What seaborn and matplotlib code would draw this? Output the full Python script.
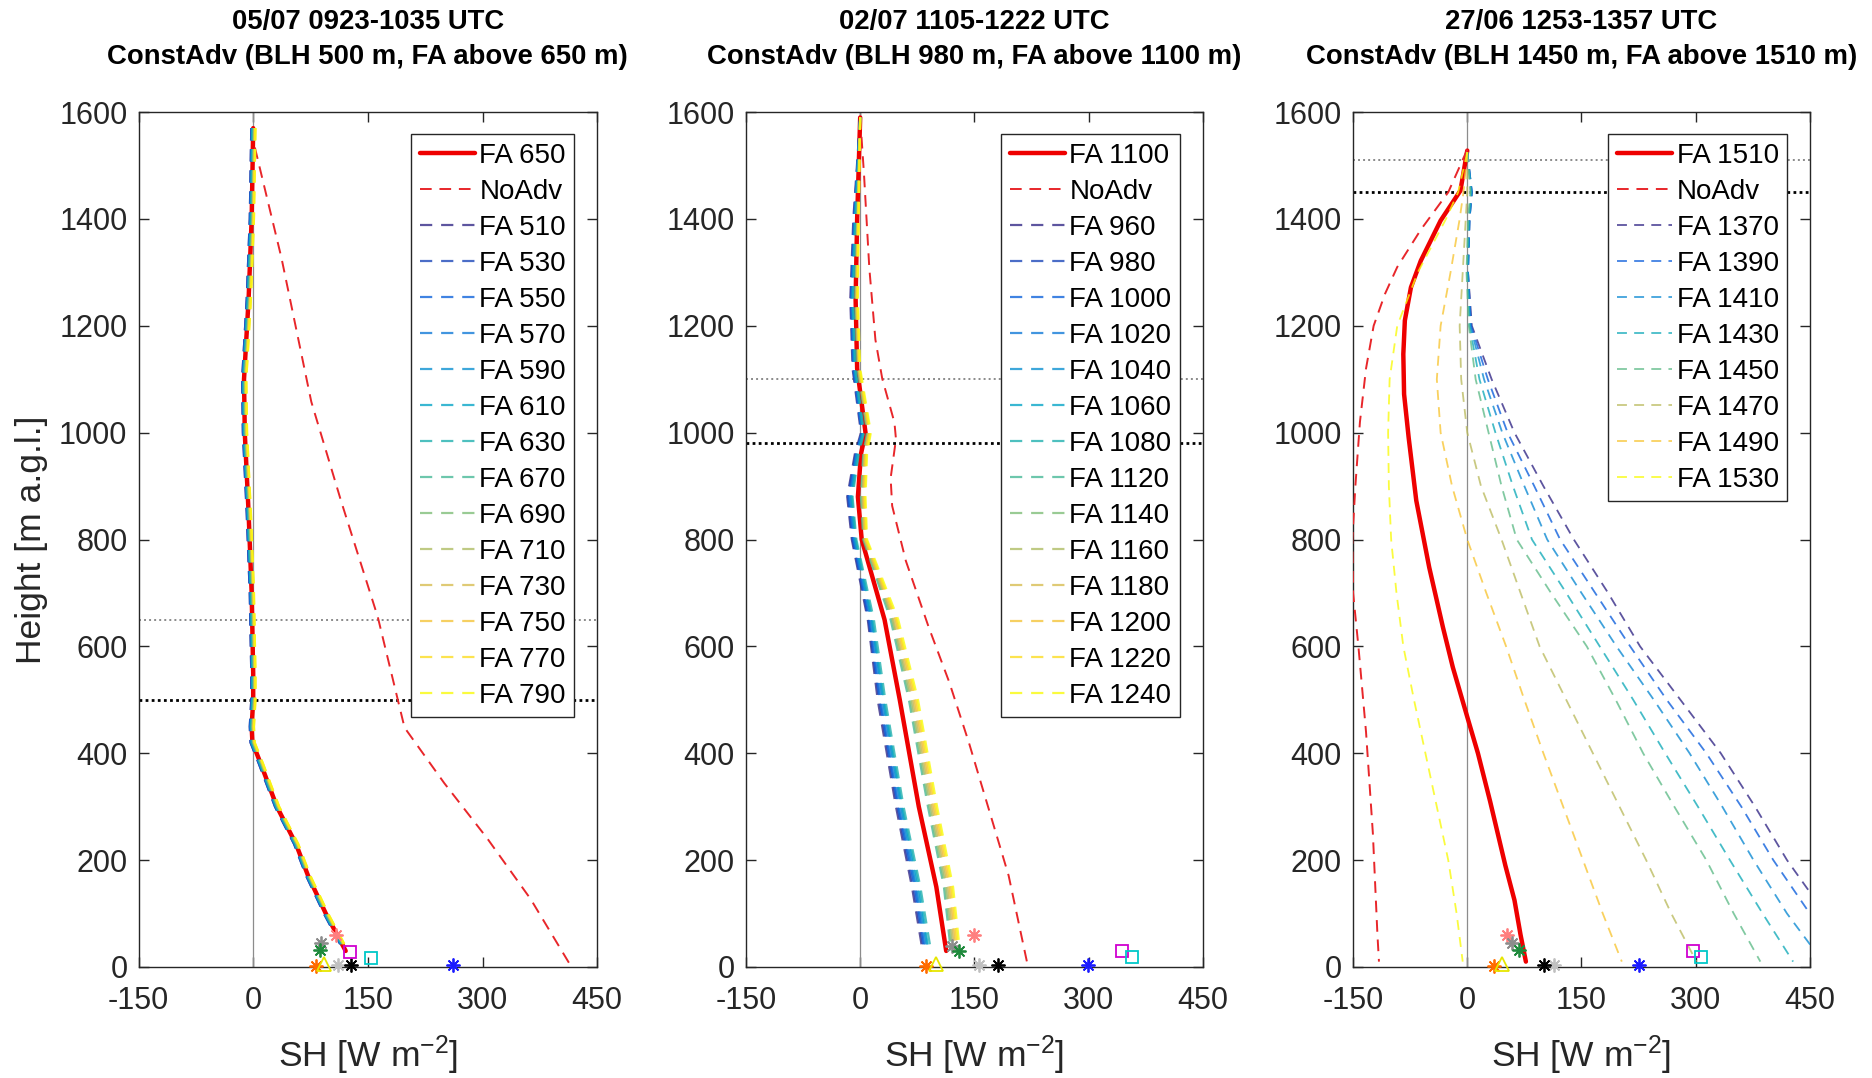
import matplotlib
matplotlib.use("Agg")
import matplotlib.pyplot as plt
import seaborn as sns
from matplotlib.colors import LinearSegmentedColormap

# ---------------- panel 1 : 05/07 ----------------
p1_title = "05/07 0923-1035 UTC\nConstAdv (BLH 500 m, FA above 650 m)"
p1_blh = 500
p1_fa_top = 650
p1_fa_label = "FA 650"
p1_height = [1570, 1400, 1250, 1100, 1000, 850, 700, 550, 500, 450, 420, 380, 300, 230, 170, 100, 30]
p1_fa_sh = [0, -2, -6, -12, -11, -6, -2, 0, 0, -2, -1, 10, 31, 56, 72, 95, 121]
p1_noadv_height = [1570, 1535, 1327, 1058, 872, 655, 448, 344, 241, 127, 8]
p1_noadv_sh = [0, 2, 37, 76, 115, 163, 198, 250, 306, 363, 413]
p1_case_labels = ["FA 510", "FA 530", "FA 550", "FA 570", "FA 590", "FA 610", "FA 630",
                  "FA 670", "FA 690", "FA 710", "FA 730", "FA 750", "FA 770", "FA 790"]
# horizontal offset of each sensitivity run from the FA 650 profile
p1_case_shift = [-2.5, -2.5, -2, -1.5, -1, -1, -0.5, 0.5, 1, 1.5, 2, 2.5, 3, 3]
p1_obs_sh = [108, 89, 87, 82, 93, 111, 128, 262, 126, 154]
p1_obs_h = [59, 44, 31, 2, 5, 3, 3, 3, 28, 17]

# ---------------- panel 2 : 02/07 ----------------
p2_title = "02/07 1105-1222 UTC\nConstAdv (BLH 980 m, FA above 1100 m)"
p2_blh = 980
p2_fa_top = 1100
p2_fa_label = "FA 1100"
p2_height = [1590, 1400, 1250, 1120, 1000, 960, 880, 800, 650, 500, 300, 150, 30]
p2_fa_sh = [0, -4, -6, -4, 7, 1, -3, 2, 32, 52, 77, 100, 113]
p2_noadv_height = [1590, 1484, 1308, 1174, 1101, 1019, 988, 915, 863, 760, 636, 533, 419, 295, 171, 10]
p2_noadv_sh = [0, 5, 12, 20, 29, 45, 47, 40, 42, 60, 90, 117, 143, 169, 195, 219]
p2_case_labels = ["FA 960", "FA 980", "FA 1000", "FA 1020", "FA 1040", "FA 1060", "FA 1080",
                  "FA 1120", "FA 1140", "FA 1160", "FA 1180", "FA 1200", "FA 1220", "FA 1240"]
p2_sh_960 = [0, -9, -13, -10, 1, -7, -17, -11, 10, 23, 47, 68, 82]
p2_sh_980 = [0, -8, -12, -9, 2, -6, -16, -10, 11, 25, 49, 70, 84]
p2_sh_1000 = [0, -8, -12, -9, 2, -5, -15, -9, 12, 26, 50, 72, 85]
p2_sh_1020 = [0, -7, -11, -8, 3, -5, -13, -8, 14, 28, 52, 73, 87]
p2_sh_1040 = [0, -7, -10, -7, 4, -4, -12, -7, 15, 30, 54, 75, 89]
p2_sh_1060 = [0, -6, -10, -7, 4, -3, -11, -6, 16, 31, 55, 77, 90]
p2_sh_1080 = [0, -6, -9, -6, 5, -2, -10, -5, 18, 33, 57, 79, 93]
p2_sh_1120 = [0, -4, -6, -3, 9, 4, 1, 4, 40, 64, 89, 110, 119]
p2_sh_1140 = [0, -4, -6, -3, 10, 5, 2, 5, 42, 66, 91, 112, 121]
p2_sh_1160 = [0, -3, -5, -2, 11, 6, 3, 6, 43, 68, 93, 114, 123]
p2_sh_1180 = [0, -3, -5, -2, 11, 6, 4, 6, 45, 70, 95, 116, 125]
p2_sh_1200 = [0, -3, -4, -1, 12, 7, 5, 7, 47, 72, 97, 118, 127]
p2_sh_1220 = [0, -2, -4, -1, 13, 8, 6, 8, 48, 74, 99, 120, 129]
p2_sh_1240 = [0, -2, -3, 0, 14, 9, 7, 9, 50, 76, 101, 122, 131]
p2_obs_sh = [150, 120, 130, 87, 100, 156, 181, 299, 344, 357]
p2_obs_h = [59, 40, 29, 2, 5, 3, 3, 3, 29, 19]

# ---------------- panel 3 : 27/06 ----------------
p3_title = "27/06 1253-1357 UTC\nConstAdv (BLH 1450 m, FA above 1510 m)"
p3_blh = 1450
p3_fa_top = 1510
p3_fa_label = "FA 1510"
p3_height = [1528, 1453, 1397, 1322, 1272, 1210, 1147, 1072, 991, 873, 748, 636, 561, 468,
             400, 310, 250, 190, 125, 60, 10]
p3_fa_sh = [0, -9, -35, -61, -74, -82, -84, -83, -77, -67, -50, -32, -19, 0,
            14, 30, 40, 50, 62, 70, 77]
p3_noadv_height = [1530, 1450, 1380, 1310, 1260, 1200, 1120, 1020, 900, 800, 700, 600, 440, 250, 60, 10]
p3_noadv_sh = [0, -25, -61, -92, -108, -123, -133, -141, -147, -151, -150, -143, -133, -124, -118, -116]
p3_case_labels = ["FA 1370", "FA 1390", "FA 1410", "FA 1430", "FA 1450", "FA 1470", "FA 1490", "FA 1530"]
p3_case_height = [1525, 1450, 1400, 1300, 1200, 1100, 1000, 900, 800, 700, 600, 500, 400, 300, 200, 100, 10]
p3_sh_1370 = [0, 6, 3, 1, 6, 32, 62, 100, 140, 185, 227, 280, 333, 378, 420, 470, 524]
p3_sh_1390 = [0, 6, 3, 1, 5, 27, 53, 88, 122, 168, 214, 262, 314, 360, 402, 450, 493]
p3_sh_1410 = [0, 6, 3, 1, 4, 22, 46, 75, 105, 150, 196, 245, 292, 335, 376, 420, 467]
p3_sh_1430 = [0, 5, 2, 0, 3, 16, 37, 60, 85, 130, 174, 218, 260, 303, 345, 388, 428]
p3_sh_1450 = [0, 4, 1, -1, 2, 11, 28, 45, 65, 110, 157, 195, 231, 272, 314, 350, 385]
p3_sh_1470 = [0, 0, -2, -6, -10, -8, 0, 18, 45, 70, 95, 130, 165, 200, 235, 268, 301]
p3_sh_1490 = [0, -5, -10, -22, -35, -40, -35, -20, 0, 25, 51, 75, 100, 126, 152, 178, 203]
p3_sh_1530 = [0, -12, -28, -65, -92, -102, -104, -103, -100, -93, -84, -70, -55, -40, -25, -14, -6]
p3_obs_sh = [52, 59, 68, 35, 46, 114, 101, 225, 297, 307]
p3_obs_h = [59, 45, 32, 2, 6, 3, 3, 3, 29, 19]

# surface observation symbols (same station order in every panel)
obs_markers = [(8, 2, 0), (8, 2, 0), (8, 2, 0), (8, 2, 0), "^", (8, 2, 0), (8, 2, 0), (8, 2, 0), "s", "s"]
obs_colors = ["#ff7f7f", "#8c8c8c", "#1f8a3c", "#ff6a00", "#e6e600", "#c0c0c0", "#000000", "#1a1aff", "#d000d0", "#00c8c8"]

x_ticks = [-150, 0, 150, 300, 450]
y_ticks = [0, 200, 400, 600, 800, 1000, 1200, 1400, 1600]

sns.set_style("ticks")
plt.rcParams.update({
    "font.family": ["Liberation Sans", "DejaVu Sans"],
    "axes.unicode_minus": False,
    "mathtext.fontset": "custom",
    "mathtext.rm": "Liberation Sans",
    "mathtext.it": "Liberation Sans:italic",
    "mathtext.bf": "Liberation Sans:bold",
})

PARULA = LinearSegmentedColormap.from_list(
    "parula_like",
    ["#352a87", "#0f5cdd", "#1481d6", "#06a4ca", "#2eb7a4", "#87bf77", "#d1bb59", "#fec832", "#f9fb0e"])
TXT = "#262626"


def profile(ax, sh, h, color, lw, ls, label, alpha=1.0, z=2):
    sns.lineplot(x=sh, y=h, orient="y", sort=False, estimator=None,
                 color=color, linewidth=lw, alpha=alpha, ax=ax, zorder=z)
    line = ax.lines[-1]
    line.set_linestyle(ls)
    line.set_label(label)
    return line


def draw_panel(ax, title, fa_label, fa_h, fa_sh, noadv_h, noadv_sh,
               case_labels, case_h, case_sh, blh, fa_top, obs_sh, obs_h, case_lw):
    ax.axvline(0, color="#8c8c8c", lw=0.9, zorder=1)
    ax.axhline(fa_top, color="#8a8a8a", lw=1.4, ls=(0, (1, 1.6)), zorder=1)
    ax.axhline(blh, color="black", lw=2.0, ls=(0, (1, 1.2)), zorder=1)

    handles = [profile(ax, fa_sh, fa_h, "#ee0000", 3.2, "-", fa_label, z=3)]
    handles.append(profile(ax, noadv_sh, noadv_h, "#e8262a", 1.4, (0, (6, 4)), "NoAdv", z=3))
    n = len(case_labels)
    for i, (lab, sh) in enumerate(zip(case_labels, case_sh)):
        col = PARULA(i / (n - 1))
        handles.append(profile(ax, sh, case_h, col, case_lw, (0, (5.5, 4)), lab, alpha=0.8, z=4))

    for sx, sy, m, c in zip(obs_sh, obs_h, obs_markers, obs_colors):
        ax.plot([sx], [sy], ls="none", marker=m, ms=10 if m != "s" else 9,
                mec=c, mfc="none", mew=1.3, zorder=6, clip_on=False)

    ax.set_xlim(-150, 450)
    ax.set_ylim(0, 1600)
    ax.set_xticks(x_ticks)
    ax.set_yticks(y_ticks)
    ax.tick_params(direction="in", top=True, right=True, length=7, width=1.0,
                   labelsize=22, colors=TXT, labelcolor=TXT)
    ax.tick_params(axis="x", pad=14)
    ax.tick_params(axis="y", pad=8)
    for s in ax.spines.values():
        s.set_color(TXT)
        s.set_linewidth(1.0)
    ax.set_xlabel("SH [W m$^{-2}$]", fontsize=25.5, color=TXT, labelpad=12)
    ax.set_ylabel("")
    ax.set_title(title, fontsize=19.8, fontweight="bold", color="black", pad=35, linespacing=1.42)

    leg = ax.legend(handles=handles, labels=[h.get_label() for h in handles],
                    loc="upper right", bbox_to_anchor=(0.95, 0.974), borderaxespad=0,
                    fontsize=20, frameon=True, fancybox=False, framealpha=1,
                    edgecolor="#262626", handlelength=2.0, handletextpad=0.15,
                    labelspacing=0.36, borderpad=0.3)
    leg.get_frame().set_linewidth(1.0)
    for t in leg.get_texts():
        t.set_color("black")
    return ax


fig = plt.figure(figsize=(18.72, 10.78), dpi=100)
ax1 = fig.add_axes([0.074, 0.103, 0.245, 0.793])
ax2 = fig.add_axes([0.3985, 0.103, 0.244, 0.793])
ax3 = fig.add_axes([0.7228, 0.103, 0.244, 0.793])

p1_case_sh = [[v + d for v in p1_fa_sh] for d in p1_case_shift]
draw_panel(ax1, p1_title, p1_fa_label, p1_height, p1_fa_sh, p1_noadv_height, p1_noadv_sh,
           p1_case_labels, p1_height, p1_case_sh, p1_blh, p1_fa_top, p1_obs_sh, p1_obs_h, 1.6)

p2_case_sh = [p2_sh_960, p2_sh_980, p2_sh_1000, p2_sh_1020, p2_sh_1040, p2_sh_1060, p2_sh_1080,
              p2_sh_1120, p2_sh_1140, p2_sh_1160, p2_sh_1180, p2_sh_1200, p2_sh_1220, p2_sh_1240]
draw_panel(ax2, p2_title, p2_fa_label, p2_height, p2_fa_sh, p2_noadv_height, p2_noadv_sh,
           p2_case_labels, p2_height, p2_case_sh, p2_blh, p2_fa_top, p2_obs_sh, p2_obs_h, 1.6)

p3_case_sh = [p3_sh_1370, p3_sh_1390, p3_sh_1410, p3_sh_1430, p3_sh_1450, p3_sh_1470, p3_sh_1490, p3_sh_1530]
draw_panel(ax3, p3_title, p3_fa_label, p3_height, p3_fa_sh, p3_noadv_height, p3_noadv_sh,
           p3_case_labels, p3_case_height, p3_case_sh, p3_blh, p3_fa_top, p3_obs_sh, p3_obs_h, 1.3)

ax1.set_ylabel("Height [m a.g.l.]", fontsize=25.5, color=TXT, labelpad=8)

fig.savefig("out.png", dpi=100)
